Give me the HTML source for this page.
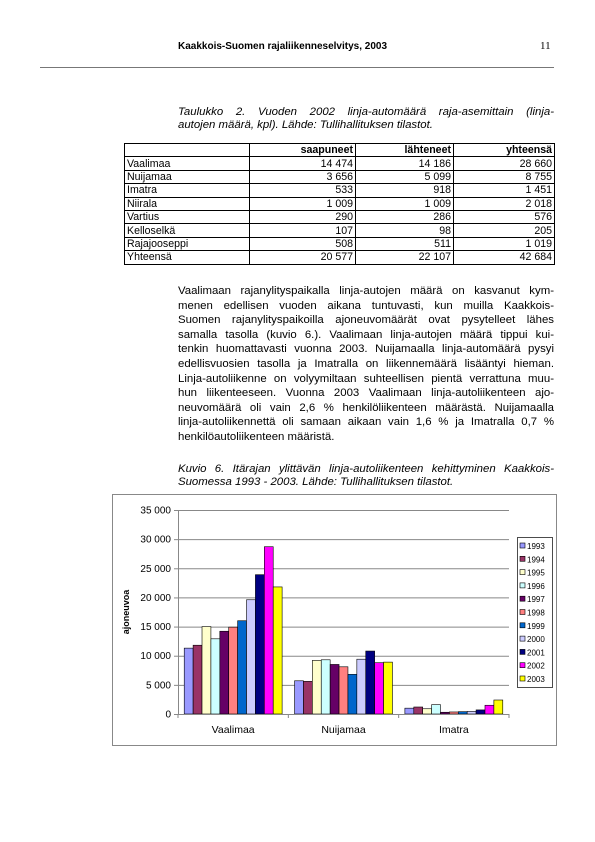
<!DOCTYPE html>
<html><head><meta charset="utf-8">
<style>
body{margin:0;width:595px;height:842px;background:#fff;position:relative;font-family:"Liberation Sans",sans-serif;color:#000;overflow:hidden}
.abs{position:absolute}
#hdr{left:178px;top:41px;font-size:10px;font-weight:bold}
#pg{left:540px;top:40px;font-size:11px;font-family:"Liberation Serif",serif}
#rule{left:40px;top:67px;width:514px;height:1px;background:#777}
.cap{left:178px;width:376px;font-size:11.4px;font-style:italic;line-height:13.4px;text-align:justify}
table{position:absolute;left:124px;top:143px;border-collapse:collapse;font-size:10.6px}
td{border:1px solid #000;padding:0 2px;height:12.4px;line-height:12px}
td.n{text-align:right}
th{border:1px solid #000;padding:0 2px;text-align:right;height:12.4px;line-height:12px;font-size:10.6px}
#para{left:178px;top:284px;width:376px;font-size:11.4px;line-height:14.6px;text-align:justify}
#para span{display:block;text-align:justify;text-align-last:justify}
#para span.l{text-align-last:left}
</style></head><body>
<div class="abs" id="hdr">Kaakkois-Suomen rajaliikenneselvitys, 2003</div>
<div class="abs" id="pg">11</div>
<div class="abs" id="rule"></div>
<div class="abs cap" style="top:106px"><span style="display:block;text-align-last:justify">Taulukko 2. Vuoden 2002 linja-automäärä raja-asemittain (linja-</span>autojen määrä, kpl). Lähde: Tullihallituksen tilastot.</div>
<table>
<tr><th style="width:120px"></th><th style="width:101px">saapuneet</th><th style="width:93px">lähteneet</th><th style="width:96px">yhteensä</th></tr>
<tr><td>Vaalimaa</td><td class="n">14 474</td><td class="n">14 186</td><td class="n">28 660</td></tr>
<tr><td>Nuijamaa</td><td class="n">3 656</td><td class="n">5 099</td><td class="n">8 755</td></tr>
<tr><td>Imatra</td><td class="n">533</td><td class="n">918</td><td class="n">1 451</td></tr>
<tr><td>Niirala</td><td class="n">1 009</td><td class="n">1 009</td><td class="n">2 018</td></tr>
<tr><td>Vartius</td><td class="n">290</td><td class="n">286</td><td class="n">576</td></tr>
<tr><td>Kelloselkä</td><td class="n">107</td><td class="n">98</td><td class="n">205</td></tr>
<tr><td>Rajajooseppi</td><td class="n">508</td><td class="n">511</td><td class="n">1 019</td></tr>
<tr><td>Yhteensä</td><td class="n">20 577</td><td class="n">22 107</td><td class="n">42 684</td></tr>
</table>
<div class="abs" id="para">
<span>Vaalimaan rajanylityspaikalla linja-autojen määrä on kasvanut kym-</span>
<span>menen edellisen vuoden aikana tuntuvasti, kun muilla Kaakkois-</span>
<span>Suomen rajanylityspaikoilla ajoneuvomäärät ovat pysytelleet lähes</span>
<span>samalla tasolla (kuvio 6.). Vaalimaan linja-autojen määrä tippui kui-</span>
<span>tenkin huomattavasti vuonna 2003. Nuijamaalla linja-automäärä pysyi</span>
<span>edellisvuosien tasolla ja Imatralla on liikennemäärä lisääntyi hieman.</span>
<span>Linja-autoliikenne on volyymiltaan suhteellisen pientä verrattuna muu-</span>
<span>hun liikenteeseen. Vuonna 2003 Vaalimaan linja-autoliikenteen ajo-</span>
<span>neuvomäärä oli vain 2,6 % henkilöliikenteen määrästä. Nuijamaalla</span>
<span>linja-autoliikennettä oli samaan aikaan vain 1,6 % ja Imatralla 0,7 %</span>
<span class="l">henkilöautoliikenteen määristä.</span>
</div>
<div class="abs cap" style="top:463px"><span style="display:block;text-align-last:justify">Kuvio 6. Itärajan ylittävän linja-autoliikenteen kehittyminen Kaakkois-</span>Suomessa 1993 - 2003. Lähde: Tullihallituksen tilastot.</div>
<svg class="abs" style="left:0;top:0" width="595" height="842" font-family="Liberation Sans, sans-serif">
<rect x="112.5" y="494.5" width="444" height="251" fill="none" stroke="#888"/>
<g id="g"></g>
</svg>
<script>
const categories=["Vaalimaa","Nuijamaa","Imatra"];
const years=["1993","1994","1995","1996","1997","1998","1999","2000","2001","2002","2003"];
const colors=["#9999ff","#993366","#ffffcc","#ccffff","#660066","#ff8080","#0066cc","#ccccff","#000080","#ff00ff","#ffff00"];
const vaalimaa=[11300,11800,15000,12900,14200,14900,16000,19600,23900,28700,21800];
const nuijamaa=[5700,5600,9200,9300,8500,8100,6800,9400,10800,8800,8900];
const imatra=[1000,1200,900,1600,300,350,400,450,700,1500,2400];
const series=[vaalimaa,nuijamaa,imatra];
const ticks=[0,5000,10000,15000,20000,25000,30000,35000];
const tickLabels=["0","5 000","10 000","15 000","20 000","25 000","30 000","35 000"];
const NS="http://www.w3.org/2000/svg";
const g=document.getElementById('g');
const X0=178,X1=509,Y0=714,Y1=510,MAX=35000;
const y=v=>Y0-(v/MAX)*(Y0-Y1);
const gw=(X1-X0)/categories.length;
function mk(t,a,p){const e=document.createElementNS(NS,t);for(const k in a)e.setAttribute(k,a[k]);(p||g).appendChild(e);return e;}
ticks.forEach((t,i)=>{
  if(i>0){const l=mk('line',{x1:X0,x2:X1,y1:y(t)+.5,y2:y(t)+.5,stroke:'#888','stroke-width':1});
  
  }
  const tx=mk('text',{x:171,y:y(t)+3.5,'font-size':10,'text-anchor':'end'});tx.textContent=tickLabels[i];
  
  
});
const bw=8.9,pad=(gw-bw*years.length)/2;
series.forEach((s,ci)=>{
  s.forEach((v,yi)=>{
    const r=mk('rect',{x:X0+ci*gw+pad+yi*bw,y:y(v),width:bw,height:Y0-y(v),fill:colors[yi],stroke:'#000','stroke-width':0.6});
    
    
  });
  const t=mk('text',{x:X0+ci*gw+gw/2,y:733,'font-size':10.5,'text-anchor':'middle'});t.textContent=categories[ci];
  
  
});
const ax=mk('path',{d:`M${X0+.5},${Y1} V${Y0+.5} H${X1}`,fill:'none',stroke:'#888'});


for(let i=0;i<=categories.length;i++){const tk=mk('line',{x1:X0+i*gw,x2:X0+i*gw,y1:Y0,y2:Y0+4,stroke:'#888'});

}
ticks.forEach(t=>{const tk=mk('line',{x1:X0-4,x2:X0,y1:y(t)+.5,y2:y(t)+.5,stroke:'#888'});

});
const yl=mk('text',{x:0,y:0,'font-size':9,'font-weight':'bold','text-anchor':'middle',transform:'translate(129,612) rotate(-90)'});yl.textContent='ajoneuvoa';


const lg=mk('rect',{x:517.5,y:537.5,width:35,height:150,fill:'#fff',stroke:'#000','stroke-width':0.7});


years.forEach((yr,i)=>{
  const yy=546+i*13.3;
  const s=mk('rect',{x:520,y:yy-3,width:5,height:5,fill:colors[i],stroke:'#000','stroke-width':0.6});
  
  
  const t=mk('text',{x:527,y:yy+3,'font-size':8});t.textContent=yr;
  
  
});
</script>
</body></html>
